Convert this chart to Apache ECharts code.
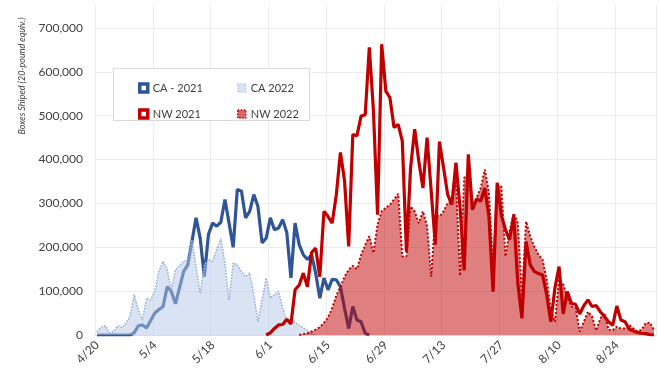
<!DOCTYPE html>
<html>
<head>
<meta charset="utf-8">
<script src="https://cdn.jsdelivr.net/npm/echarts@6/dist/echarts.min.js"></script>
<style>
  html, body { margin: 0; padding: 0; background: #fff; }
  #chart { width: 659px; height: 377px; }
</style>
</head>
<body>
<div id="chart"></div>
<script>
// daily shipments, first day on the axis is 4/20
var firstDay = new Date(2021, 3, 20);
var dayCount = 136;

// CA - 2021, from 4/20
var ca2021 = [0, 0, 0, 0, 0, 0, 0, 0, 0, 5000,
  21000, 23000, 16000, 33000, 50000, 58000, 65000, 110000, 99000, 71000,
  108000, 145000, 160000, 213000, 267000, 221000, 133000, 229000, 255000, 248000,
  257000, 309000, 255000, 200000, 332000, 328000, 267000, 282000, 320000, 293000,
  210000, 221000, 267000, 240000, 244000, 263000, 233000, 130000, 255000, 206000,
  183000, 172000, 183000, 141000, 84000, 130000, 103000, 127000, 126000, 110000,
  61000, 15000, 65000, 34000, 30000, 4000, 0];

// CA 2022, from 4/20
var ca2022 = [8000, 18000, 21000, 5000, 8000, 21000, 17000, 27000, 42000, 92000,
  57000, 34000, 84000, 80000, 100000, 145000, 168000, 149000, 103000, 149000,
  158000, 168000, 172000, 217000, 156000, 95000, 160000, 172000, 168000, 195000,
  220000, 163000, 80000, 164000, 160000, 145000, 133000, 141000, 92000, 30000,
  80000, 130000, 84000, 92000, 100000, 61000, 34000, 36000, 28000, 22000,
  16000, 11000, 3000, 0];

// NW 2021, from 5/31
var nw2021Start = 41;
var nw2021 = [0, 5000, 15000, 23000, 24000, 36000, 25000, 103000, 114000,
  141000, 110000, 188000, 198000, 133000, 282000, 270000, 255000, 320000, 416000,
  351000, 202000, 457000, 454000, 499000, 502000, 656000, 511000, 274000, 663000,
  556000, 541000, 473000, 480000, 442000, 190000, 381000, 469000, 396000, 335000,
  450000, 328000, 206000, 441000, 381000, 320000, 297000, 393000, 290000, 147000,
  412000, 286000, 310000, 305000, 335000, 270000, 99000, 347000, 274000, 240000,
  217000, 272000, 118000, 38000, 213000, 160000, 145000, 140000, 137000, 92000,
  30000, 107000, 156000, 48000, 99000, 72000, 70000, 48000, 67000, 80000,
  65000, 67000, 53000, 42000, 30000, 22000, 66000, 34000, 30000, 13000,
  9000, 6000, 4000, 3000, 1000, 0];

// NW 2022, from 6/8
var nw2022Start = 49;
var nw2022 = [0, 2000, 4000, 8000, 12000, 18000, 28000, 40000, 62000, 90000,
  110000, 133000, 149000, 158000, 150000, 182000, 205000, 225000, 187000, 252000,
  282000, 290000, 297000, 309000, 322000, 179000, 179000, 293000, 282000, 255000,
  282000, 248000, 133000, 274000, 270000, 282000, 301000, 305000, 351000, 135000,
  358000, 370000, 293000, 313000, 335000, 377000, 324000, 156000, 343000, 339000,
  179000, 236000, 278000, 255000, 88000, 259000, 225000, 202000, 183000, 172000,
  126000, 57000, 30000, 126000, 116000, 85000, 65000, 62000, 8000, 30000,
  53000, 42000, 10000, 38000, 50000, 12000, 11000, 19000, 15000, 15000,
  23000, 15000, 8000, 12000, 27000, 28000, 12000];

var days = [];
for (var i = 0; i < dayCount; i++) {
  var d = new Date(firstDay.getTime());
  d.setDate(d.getDate() + i);
  days.push((d.getMonth() + 1) + '/' + d.getDate());
}

function fromDay(start, arr) {
  var out = [];
  for (var i = 0; i < start; i++) out.push(null);
  return out.concat(arr);
}

var font = 'Lato';
var txt = '#404040';

var chart = echarts.init(document.getElementById('chart'));
chart.setOption({
  animation: false,
  textStyle: { fontFamily: font },
  grid: { left: 95, right: 3, top: 6, bottom: 42 },
  legend: [{
    left: 133, top: 76, orient: 'vertical', z: 20,
    itemWidth: 8, itemHeight: 8, itemGap: 12,
    textStyle: { fontSize: 11, color: txt, fontFamily: font, lineHeight: 14 },
    data: [
      { name: 'CA - 2021', icon: 'rect', itemStyle: { color: '#fff', borderColor: '#2f5597', borderWidth: 3.5 } },
      { name: 'NW 2021', icon: 'rect', itemStyle: { color: '#fff', borderColor: '#c00000', borderWidth: 3.5 } }
    ]
  }, {
    left: 232, top: 76, orient: 'vertical', z: 20,
    itemWidth: 8, itemHeight: 8, itemGap: 12,
    textStyle: { fontSize: 11, color: txt, fontFamily: font, lineHeight: 14 },
    data: [
      { name: 'CA 2022', icon: 'rect', itemStyle: { color: '#dae3f3', borderColor: '#b4c7e7', borderWidth: 1.5, borderType: 'dotted' } },
      { name: 'NW 2022', icon: 'rect', itemStyle: { color: '#e06666', borderColor: '#c00000', borderWidth: 1.5, borderType: 'dotted' } }
    ]
  }],
  graphic: [{
    type: 'rect', z: 15,
    shape: { x: 113.5, y: 68.5, width: 196, height: 52 },
    style: { fill: '#fff', stroke: '#d9d9d9', lineWidth: 1 }
  }, {
    type: 'text', x: 22, y: 76, rotation: Math.PI / 2,
    style: {
      text: 'Boxes Shiped (20-pound equiv.)', fill: txt,
      font: 'italic 9px Lato', align: 'center', verticalAlign: 'middle'
    }
  }],
  xAxis: {
    type: 'category',
    data: days,
    boundaryGap: true,
    axisLine: { lineStyle: { color: '#d9d9d9' } },
    axisTick: { show: false },
    axisLabel: { interval: 13, rotate: 45, fontSize: 12, color: txt, margin: 8 },
    splitLine: { show: true, interval: 13, lineStyle: { color: '#ececec' } }
  },
  yAxis: {
    type: 'value',
    min: 0, max: 750000, interval: 100000,
    axisLine: { show: false },
    axisTick: { show: false },
    axisLabel: {
      showMaxLabel: false, fontSize: 12, color: txt, margin: 12,
      formatter: function (v) { return v.toLocaleString('en-US'); }
    },
    splitLine: { showMaxLine: false, lineStyle: { color: '#ececec' } }
  },
  series: [{
    name: 'CA - 2021', type: 'line', symbol: 'none', z: 2,
    data: ca2021,
    lineStyle: { color: '#2f5597', width: 3.2 },
    itemStyle: { color: '#2f5597' }
  }, {
    name: 'CA 2022', type: 'line', symbol: 'none', z: 3,
    data: ca2022,
    lineStyle: { color: '#8faadc', width: 1.5, type: 'dotted' },
    itemStyle: { color: '#8faadc' },
    areaStyle: { color: 'rgba(180,199,231,0.5)', opacity: 1 }
  }, {
    name: 'NW 2022', type: 'line', symbol: 'none', z: 4,
    data: fromDay(nw2022Start, nw2022),
    lineStyle: { color: '#c00000', width: 2, type: 'dotted' },
    itemStyle: { color: '#c00000' },
    areaStyle: { color: 'rgba(192,0,0,0.5)', opacity: 1 }
  }, {
    name: 'NW 2021', type: 'line', symbol: 'none', z: 5,
    data: fromDay(nw2021Start, nw2021),
    lineStyle: { color: '#c00000', width: 3.2 },
    itemStyle: { color: '#c00000' }
  }]
});
</script>
</body>
</html>
